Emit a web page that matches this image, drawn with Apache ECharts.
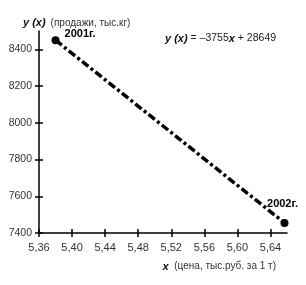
<!DOCTYPE html>
<html lang="ru">
<head>
    <meta charset="UTF-8">
    <title>y(x)</title>
    <script src="https://cdn.jsdelivr.net/npm/echarts@6/dist/echarts.min.js"></script>
    <style>
        html,body{margin:0;padding:0;background:#fff;}
        #main{width:306px;height:285px;}
    </style>
</head>
<body>
<div id="main"></div>
<script>
    // данные
    var priceX = [5.38, 5.657];
    var salesY = [8450, 7455];
    var yearNames = ['2001г.', '2002г.'];
    var xTicks = [5.36, 5.40, 5.44, 5.48, 5.52, 5.56, 5.60, 5.64];
    var yTicks = [7400, 7600, 7800, 8000, 8200, 8400];

    var pts = [];
    for (var i = 0; i < priceX.length; i++) {
        pts.push({value: [priceX[i], salesY[i]], name: yearNames[i]});
    }
    pts[0].label = {position: 'right', offset: [0, -6]};
    pts[1].label = {position: 'top', offset: [-2, -4]};

    var fnt = '"Liberation Sans", Arial, sans-serif';
    var fmtX = function (v) { return v.toFixed(2).replace('.', ','); };
    var fmtY = function (v) { return String(v); };

    var bStyle = {fontFamily: fnt, fontSize: 11, fontWeight: 'bold', fontStyle: 'italic', color: '#111'};
    var nStyle = {fontFamily: fnt, fontSize: 10, fontWeight: 'normal', color: '#333'};

    var xBase = {
        type: 'value', min: 5.36, max: 5.66, gridIndex: 0, position: 'bottom',
        splitLine: {show: false}
    };
    var yBase = {
        type: 'value', min: 7400, max: 8500, gridIndex: 0, position: 'left',
        splitLine: {show: false}
    };

    var myChart = echarts.init(document.getElementById('main'));
    var option = {
        animation: false,
        title: [{
            text: '{b|y (x)} {n|(продажи, тыс.кг)}',
            left: 18, top: 9,
            textStyle: {fontWeight: 'normal', rich: {b: bStyle, n: nStyle}}
        }, {
            text: '{b|y (x)}{n| = –3755}{b|x}{n| + 28649}',
            left: 160, top: 28,
            textStyle: {fontWeight: 'normal', rich: {b: bStyle,
                n: {fontFamily: fnt, fontSize: 10.5, fontWeight: 'normal', color: '#222'}}}
        }, {
            text: '{b|x}{n|  (цена, тыс.руб. за 1 т)}',
            right: 25, top: 256,
            textStyle: {fontWeight: 'normal', rich: {b: bStyle, n: nStyle}}
        }],
        grid: {left: 39, right: 19, top: 31, bottom: 52, containLabel: false},
        xAxis: [
            Object.assign({}, xBase, {
                axisLine: {lineStyle: {color: '#000', width: 1.5}},
                axisTick: {length: 4, customValues: xTicks, lineStyle: {color: '#000', width: 1.5}},
                axisLabel: {customValues: xTicks, formatter: fmtX, margin: 9,
                    fontFamily: fnt, fontSize: 11, color: '#333'}
            }),
            Object.assign({}, xBase, {
                axisLine: {show: false},
                axisTick: {inside: true, length: 4, customValues: xTicks, lineStyle: {color: '#000', width: 1.5}},
                axisLabel: {show: false}
            })
        ],
        yAxis: [
            Object.assign({}, yBase, {
                axisLine: {lineStyle: {color: '#000', width: 1.5}},
                axisTick: {length: 4, customValues: yTicks, lineStyle: {color: '#000', width: 1.5}},
                axisLabel: {customValues: yTicks, formatter: fmtY, margin: 7,
                    fontFamily: fnt, fontSize: 10.5, color: '#333'}
            }),
            Object.assign({}, yBase, {
                axisLine: {show: false},
                axisTick: {inside: true, length: 4, customValues: yTicks, lineStyle: {color: '#000', width: 1.5}},
                axisLabel: {show: false}
            })
        ],
        series: [{
            type: 'line',
            data: pts,
            symbol: 'circle',
            symbolSize: 8,
            itemStyle: {color: '#000'},
            lineStyle: {color: '#000', width: 3.5, type: [8, 3, 3, 3]},
            label: {
                show: true,
                formatter: '{b}',
                fontFamily: fnt, fontSize: 11, fontWeight: 'bold', color: '#000'
            }
        }]
    };
    myChart.setOption(option);
</script>
</body>
</html>
